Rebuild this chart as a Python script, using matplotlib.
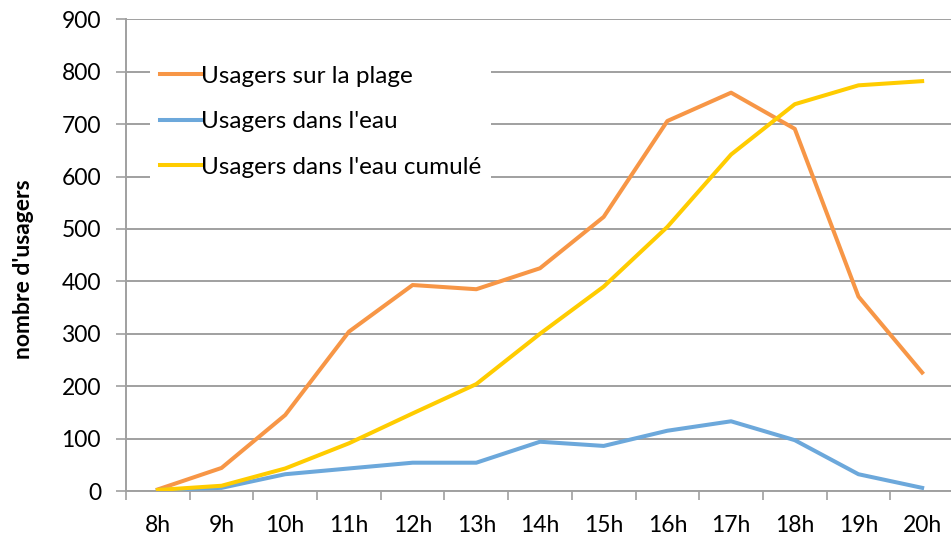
import matplotlib
matplotlib.use("Agg")
import matplotlib.pyplot as plt
import numpy as np

hours = ["8h", "9h", "10h", "11h", "12h", "13h", "14h", "15h", "16h", "17h", "18h", "19h", "20h"]
plage = [3, 44, 145, 304, 393, 385, 425, 523, 706, 760, 691, 371, 226]
eau = [2, 6, 32, 43, 54, 54, 94, 86, 115, 133, 97, 32, 6]
eau_cumul = [2, 10, 43, 91, 148, 204, 300, 390, 504, 642, 738, 774, 782]
yticks = list(range(0, 901, 100))

plt.rcParams['font.family'] = ['Lato', 'DejaVu Sans']
W, H = 951, 539
fig = plt.figure(figsize=(W / 100, H / 100), dpi=100)
ax = fig.add_axes([126 / W, (H - 491) / H, 828 / W, (491 - 19.3) / H])

grid_c = '#A0A0A0'
x = np.arange(len(hours))
ax.plot(x, plage, color='#F79646', lw=2.9, label='Usagers sur la plage', zorder=3)
ax.plot(x, eau, color='#6CA8DB', lw=2.9, label="Usagers dans l'eau", zorder=3)
ax.plot(x, eau_cumul, color='#FFCC00', lw=2.9, label="Usagers dans l'eau cumulé", zorder=3)

ax.set_xlim(-0.5, len(hours) - 0.5)
ax.set_ylim(0, 900)
ax.set_yticks(yticks)
ax.set_yticklabels([str(v) for v in yticks], fontsize=16.5)
ax.yaxis.grid(True, color=grid_c, lw=1.4)
ax.set_axisbelow(True)
ax.tick_params(axis='y', length=7, width=1.2, color=grid_c, pad=11)

ax.set_xticks(x)
ax.set_xticklabels(hours, fontsize=16.5)
ax.set_xticks(np.arange(-0.5, len(hours), 1), minor=True)
ax.tick_params(axis='x', which='major', length=0, pad=17)
ax.tick_params(axis='x', which='minor', length=6.5, width=1.2, color=grid_c)

for s in ['top', 'right']:
    ax.spines[s].set_visible(False)
for s in ['left', 'bottom']:
    ax.spines[s].set_color(grid_c)
    ax.spines[s].set_linewidth(1.4)

ax.set_ylabel("nombre d'usagers", fontsize=16.5, fontweight='bold')
ax.yaxis.set_label_coords(34 / W, 0.5, transform=fig.transFigure)

leg = ax.legend(loc='upper left', bbox_to_anchor=(138 / W, 1 - 44 / H), bbox_transform=fig.transFigure,
                fontsize=17.5, frameon=True, fancybox=False, edgecolor='white', facecolor='white',
                framealpha=1, borderpad=0.4, handlelength=1.7, handletextpad=0.0, labelspacing=1.0)
leg.get_frame().set_linewidth(0)

fig.savefig('out.png', dpi=100)
